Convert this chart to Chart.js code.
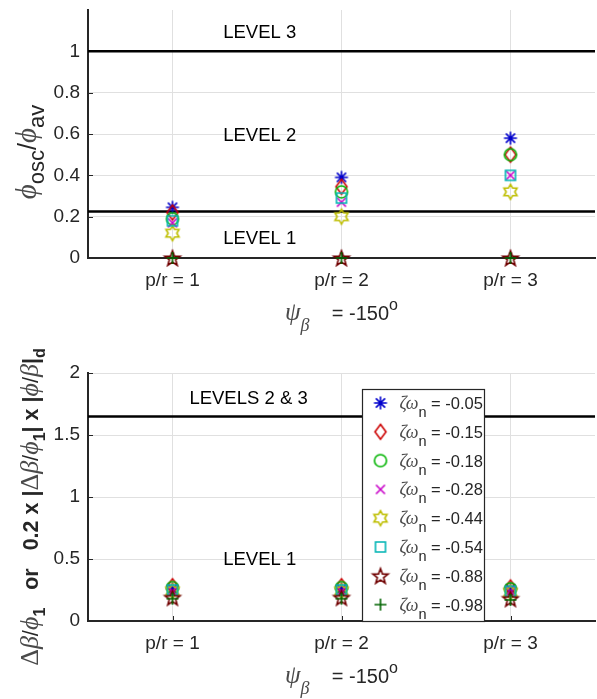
<!DOCTYPE html>
<html>
<head>
<meta charset="utf-8">
<script src="https://cdn.jsdelivr.net/npm/chart.js@4.4.1/dist/chart.umd.min.js"></script>
<style>
  html, body { margin: 0; padding: 0; background: #fff; }
  #wrap { position: relative; width: 597px; height: 699px; }
  canvas { position: absolute; left: 0; }
</style>
</head>
<body>
<div id="wrap">
  <canvas id="topChart" width="597" height="345" style="top:0"></canvas>
  <canvas id="botChart" width="597" height="354" style="top:345px"></canvas>
</div>
<script>
// categories (p/r) and their tick labels
const prValues = [1, 2, 3];
const prLabels = ["p/r = 1", "p/r = 2", "p/r = 3"];
const xMin = 0.5, xMax = 3.5;

// legend values of zeta*omega_n
const zetaLabels = ["-0.05", "-0.15", "-0.18", "-0.28", "-0.44", "-0.54", "-0.88", "-0.98"];

// top plot: phi_osc / phi_av
const oscN005 = [0.245, 0.39, 0.58];
const oscN015 = [0.22, 0.345, 0.50];
const oscN018 = [0.19, 0.32, 0.50];
const oscN028 = [0.17, 0.27, 0.40];
const oscN044 = [0.12, 0.20, 0.32];
const oscN054 = [0.18, 0.29, 0.40];
const oscN088 = [0, 0, 0];
const oscN098 = [0, 0, 0];

// bottom plot: delta beta / phi_1
const dbN005 = [0.26, 0.26, 0.26];
const dbN015 = [0.28, 0.28, 0.27];
const dbN018 = [0.27, 0.27, 0.26];
const dbN028 = [0.24, 0.24, 0.24];
const dbN044 = [0.24, 0.24, 0.23];
const dbN054 = [0.25, 0.25, 0.24];
const dbN088 = [0.19, 0.19, 0.18];
const dbN098 = [0.18, 0.18, 0.17];

// tick labels
const topYTicks = [0, 0.2, 0.4, 0.6, 0.8, 1];
const botYTicks = [0, 0.5, 1, 1.5, 2];

// level boundaries and level names
const topLevels = [1, 0.225];
const topLevelNames = ["LEVEL 3", "LEVEL 2", "LEVEL 1"];
const topLevelX = [1.3, 1.3, 1.3];
const topLevelY = [1.09, 0.59, 0.09];
const botLevels = [1.65];
const botLevelNames = ["LEVELS 2 & 3", "LEVEL 1"];
const botLevelX = [1.1, 1.3];
const botLevelY = [1.79, 0.49];

const SANS = '"Liberation Sans", Arial, Helvetica, sans-serif';
const SERIF = '"Liberation Serif", "DejaVu Serif", serif';
const INK = "#262626";
const GREEK = "#4a4a4a";
const GRID = "#e0e0e0";

const markerKinds = ["asterisk", "diamond", "circle", "x", "hexagram", "square", "pentagram", "plus"];
const markerColors = ["#0000cc", "#cc0000", "#00b400", "#c800c8", "#bebe00", "#00b4b4", "#700000", "#006400"];

// draw one MATLAB-like marker into a small canvas
function makeMarker(kind, color) {
  const s = 22, c = s / 2;
  const cv = document.createElement("canvas");
  cv.width = s; cv.height = s;
  const g = cv.getContext("2d");
  g.strokeStyle = color;
  g.lineWidth = 1.6;
  g.beginPath();
  if (kind === "asterisk") {
    for (let k = 0; k < 4; k++) {
      const a = k * Math.PI / 4;
      g.moveTo(c + 6.5 * Math.cos(a), c + 6.5 * Math.sin(a));
      g.lineTo(c - 6.5 * Math.cos(a), c - 6.5 * Math.sin(a));
    }
  } else if (kind === "diamond") {
    g.moveTo(c, c - 7.5); g.lineTo(c + 5.5, c); g.lineTo(c, c + 7.5); g.lineTo(c - 5.5, c); g.closePath();
  } else if (kind === "circle") {
    g.arc(c, c, 6, 0, Math.PI * 2);
  } else if (kind === "x") {
    g.moveTo(c - 4.5, c - 4.5); g.lineTo(c + 4.5, c + 4.5);
    g.moveTo(c + 4.5, c - 4.5); g.lineTo(c - 4.5, c + 4.5);
  } else if (kind === "hexagram") {
    const pts = [];
    for (let k = 0; k < 12; k++) {
      const r = k % 2 === 0 ? 7.5 : 4.3;
      const a = -Math.PI / 2 + k * Math.PI / 6;
      pts.push([c + r * Math.cos(a), c + r * Math.sin(a)]);
    }
    pts.forEach((p, k) => k ? g.lineTo(p[0], p[1]) : g.moveTo(p[0], p[1]));
    g.closePath();
  } else if (kind === "square") {
    g.rect(c - 5, c - 5, 10, 10);
  } else if (kind === "pentagram") {
    for (let k = 0; k < 10; k++) {
      const r = k % 2 === 0 ? 8 : 3.3;
      const a = -Math.PI / 2 + k * Math.PI / 5;
      const px = c + r * Math.cos(a), py = c + 0.8 + r * Math.sin(a);
      k ? g.lineTo(px, py) : g.moveTo(px, py);
    }
    g.closePath();
  } else if (kind === "plus") {
    g.moveTo(c - 6, c); g.lineTo(c + 6, c);
    g.moveTo(c, c - 6); g.lineTo(c, c + 6);
  }
  g.stroke();
  return cv;
}
const markers = markerKinds.map((k, i) => makeMarker(k, markerColors[i]));

function seriesDatasets(list) {
  return list.map((vals, i) => ({
    label: "ζωn = " + zetaLabels[i],
    data: prValues.map((p, k) => ({ x: p, y: vals[k] })),
    pointStyle: markers[i],
    pointRadius: 7,
    pointHoverRadius: 7,
    showLine: false,
    clip: false,
    order: 10 - i
  }));
}
function levelDatasets(levels) {
  return levels.map(v => ({
    label: "",
    data: [{ x: xMin, y: v }, { x: xMax, y: v }],
    showLine: true,
    borderColor: "#000",
    borderWidth: 2.5,
    pointRadius: 0,
    order: 50
  }));
}

// text with sub/superscripts, parts = [text, font, dy, color]
function richText(ctx, parts, x, y) {
  let w = 0;
  const widths = parts.map(p => { ctx.font = p[1]; const m = ctx.measureText(p[0]).width; w += m; return m; });
  let cx = x - w / 2;
  ctx.textAlign = "left";
  ctx.textBaseline = "alphabetic";
  parts.forEach((p, i) => {
    ctx.font = p[1];
    ctx.fillStyle = p[3] || INK;
    ctx.fillText(p[0], cx, y + (p[2] || 0));
    cx += widths[i];
  });
}
function richTextUp(ctx, parts, x, y) {
  ctx.save();
  ctx.translate(x, y);
  ctx.rotate(-Math.PI / 2);
  richText(ctx, parts, 0, 0);
  ctx.restore();
}

const xTitle = [
  ["ψ", `italic 25px ${SERIF}`, 0, GREEK],
  ["β", `italic 18px ${SERIF}`, 11, GREEK],
  ["    = -150", `20px ${SANS}`],
  ["o", `16px ${SANS}`, -10]
];
const topYTitle = [
  ["ϕ", `italic 29px ${SERIF}`, 0, GREEK],
  ["osc", `22px ${SANS}`, 8],
  ["/", `25px ${SANS}`, 0],
  ["ϕ", `italic 29px ${SERIF}`, 0, GREEK],
  ["av", `22px ${SANS}`, 8]
];
const B = `bold 21.5px ${SANS}`, G = `italic 26px ${SERIF}`, GU = `26px ${SERIF}`, SB = `bold 16px ${SANS}`, SL = `22px ${SANS}`;
const botYTitle = [
  ["Δ", GU, 0, GREEK], ["β", G, 0, GREEK], ["/", SL], ["ϕ", G, 0, GREEK], ["1", SB, 7],
  ["   or   0.2 x |", B],
  ["Δ", GU, 0, GREEK], ["β", G, 0, GREEK], ["/", SL], ["ϕ", G, 0, GREEK], ["1", SB, 7],
  ["| x |", B],
  ["ϕ", G, 0, GREEK], ["/", SL], ["β", G, 0, GREEK], ["|", B], ["d", SB, 7]
];

// MATLAB style ticks pointing into the axes
function inwardTicks(chart) {
  const { ctx, chartArea: a, scales: { x, y } } = chart;
  ctx.save();
  ctx.strokeStyle = INK;
  ctx.lineWidth = 1;
  ctx.beginPath();
  y.ticks.forEach(t => {
    const py = Math.round(y.getPixelForValue(t.value)) + 0.5;
    ctx.moveTo(a.left, py); ctx.lineTo(a.left + 5, py);
  });
  x.ticks.forEach(t => {
    const px = Math.round(x.getPixelForValue(t.value)) + 0.5;
    ctx.moveTo(px, a.bottom); ctx.lineTo(px, a.bottom - 5);
  });
  ctx.stroke();
  ctx.restore();
}
function levelTexts(chart, names, xs, ys) {
  const { ctx, scales: { x, y } } = chart;
  ctx.save();
  ctx.font = `18.5px ${SANS}`;
  ctx.fillStyle = "#000";
  ctx.textAlign = "left";
  ctx.textBaseline = "middle";
  names.forEach((n, i) => ctx.fillText(n, x.getPixelForValue(xs[i]), y.getPixelForValue(ys[i])));
  ctx.restore();
}
function drawLegend(chart) {
  const { ctx, chartArea: a } = chart;
  const bx = a.left + 274.5, by = a.top + 16.5, bw = 122, bh = a.bottom - a.top - 16;
  ctx.save();
  ctx.fillStyle = "#fff";
  ctx.fillRect(bx, by, bw, bh);
  ctx.strokeStyle = INK;
  ctx.lineWidth = 1.2;
  ctx.strokeRect(bx, by, bw, bh);
  zetaLabels.forEach((z, i) => {
    const cy = a.top + 30 + i * 28.8;
    const m = markers[i];
    ctx.drawImage(m, bx + 18 - m.width / 2, cy - m.height / 2);
    ctx.save();
    ctx.translate(bx + 37, cy + 6);
    const parts = [["ζω", `italic 18px ${SERIF}`, 0, GREEK], ["n", `14.5px ${SANS}`, 8], [" = " + z, `16.5px ${SANS}`]];
    let w = 0;
    parts.forEach(p => { ctx.font = p[1]; w += ctx.measureText(p[0]).width; });
    richText(ctx, parts, w / 2, 0);
    ctx.restore();
  });
  ctx.restore();
}

function scalesFor(yMax, yTicks, xHeight) {
  return {
    x: {
      type: "linear",
      min: xMin,
      max: xMax,
      afterBuildTicks: s => { s.ticks = prValues.map(v => ({ value: v })); },
      afterFit: s => { s.height = xHeight; s.paddingLeft = 0; s.paddingRight = 0; },
      ticks: {
        callback: v => prLabels[prValues.indexOf(v)],
        font: { family: SANS, size: 19 },
        color: INK,
        padding: 11,
        maxRotation: 0,
        autoSkip: false
      },
      grid: { color: GRID, drawTicks: false },
      border: { color: INK, width: 2 }
    },
    y: {
      min: 0,
      max: yMax,
      afterBuildTicks: s => { s.ticks = yTicks.map(v => ({ value: v })); },
      afterFit: s => { s.width = 88; s.paddingTop = 0; s.paddingBottom = 0; },
      ticks: {
        callback: v => String(v),
        font: { family: SANS, size: 19 },
        color: INK,
        padding: 8
      },
      grid: { color: GRID, drawTicks: false },
      border: { color: INK, width: 2 }
    }
  };
}

const baseOptions = {
  responsive: false,
  animation: false,
  events: [],
  plugins: { legend: { display: false }, tooltip: { enabled: false } }
};

new Chart(document.getElementById("topChart"), {
  type: "scatter",
  data: {
    datasets: seriesDatasets([oscN005, oscN015, oscN018, oscN028, oscN044, oscN054, oscN088, oscN098])
      .concat(levelDatasets(topLevels))
  },
  options: Object.assign({}, baseOptions, {
    layout: { autoPadding: false, padding: { top: 10, right: 2, left: 0, bottom: 0 } },
    scales: scalesFor(1.2, topYTicks, 87)
  }),
  plugins: [{
    id: "topDecor",
    beforeDatasetsDraw: chart => inwardTicks(chart),
    afterDraw: chart => {
      const { ctx, chartArea: a } = chart;
      levelTexts(chart, topLevelNames, topLevelX, topLevelY);
      richText(ctx, xTitle, (a.left + a.right) / 2, 320);
      richTextUp(ctx, topYTitle, 36, 152);
    }
  }]
});

new Chart(document.getElementById("botChart"), {
  type: "scatter",
  data: {
    datasets: seriesDatasets([dbN005, dbN015, dbN018, dbN028, dbN044, dbN054, dbN088, dbN098])
      .concat(levelDatasets(botLevels))
  },
  options: Object.assign({}, baseOptions, {
    layout: { autoPadding: false, padding: { top: 28, right: 2, left: 0, bottom: 0 } },
    scales: scalesFor(2, botYTicks, 78)
  }),
  plugins: [{
    id: "botDecor",
    beforeDatasetsDraw: chart => inwardTicks(chart),
    afterDraw: chart => {
      const { ctx, chartArea: a } = chart;
      levelTexts(chart, botLevelNames, botLevelX, botLevelY);
      drawLegend(chart);
      richText(ctx, xTitle, (a.left + a.right) / 2, 338);
      richTextUp(ctx, botYTitle, 38, 162);
    }
  }]
});
</script>
</body>
</html>
